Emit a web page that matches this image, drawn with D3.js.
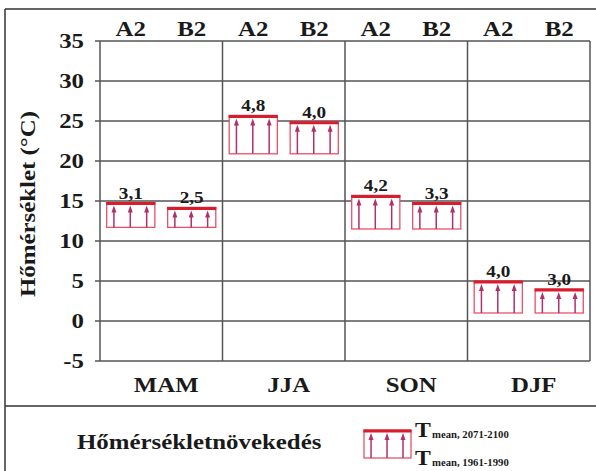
<!DOCTYPE html>
<html>
<head>
<meta charset="utf-8">
<script src="https://cdn.jsdelivr.net/npm/d3@7"></script>
<style>
body { margin: 0; background: #fff; }
</style>
</head>
<body>
<script>
var seasons = ["MAM", "JJA", "SON", "DJF"];
var scenarios = ["A2", "B2"];
// 1961-1990 seasonal mean (bottom of box)
var base1961 = [11.7, 20.9, 11.5, 1.0];
// warming by 2071-2100
var incA2 = [3.1, 4.8, 4.2, 4.0];
var incB2 = [2.5, 4.0, 3.3, 3.0];
var yTicks = [-5, 0, 5, 10, 15, 20, 25, 30, 35];

var width = 596, height = 471;
var gridColor = "#555";
var boxColor = "#e8506a";
var topColor = "#d81c2c";
var arrowColor = "#b0306a";
var stretch = 1.13;   // the original lettering is a bit wider than Times

function place(x, y) {
  return "translate(" + x + "," + y + ") scale(" + stretch + ",1)";
}

var svg = d3.select("body")
            .append("svg")
            .attr("width", width)
            .attr("height", height)
            .attr("font-family", "Liberation Serif, Times New Roman, serif")
            .attr("font-weight", "bold")
            .attr("fill", "#1a1a1a");

// outer frame
svg.append("line").attr("x1", 5).attr("x2", width).attr("y1", 9).attr("y2", 9)
   .style("stroke", "#333").style("stroke-width", 1.5);
svg.append("line").attr("x1", 5).attr("x2", 5).attr("y1", 9).attr("y2", height)
   .style("stroke", "#333").style("stroke-width", 1.5);
svg.append("line").attr("x1", 5).attr("x2", width).attr("y1", 406).attr("y2", 406)
   .style("stroke", "#333").style("stroke-width", 1.5);

var x = d3.scaleBand().domain(seasons).range([100, 590]);
var xs = d3.scaleBand().domain(scenarios).range([0, x.bandwidth()])
           .paddingInner(0.21).paddingOuter(0.11);
var y = d3.scaleLinear().domain([-5, 35]).range([361, 41]);

// grid
svg.append("g").selectAll("line")
   .data(yTicks)
   .enter()
   .append("line")
   .attr("x1", 95)
   .attr("x2", 590)
   .attr("y1", function(d) { return y(d); })
   .attr("y2", function(d) { return y(d); })
   .style("stroke", gridColor)
   .style("stroke-width", 1.5);

var bounds = seasons.map(function(s) { return x(s); }).concat([590]);
svg.append("g").selectAll("line")
   .data(bounds)
   .enter()
   .append("line")
   .attr("x1", function(d) { return d; })
   .attr("x2", function(d) { return d; })
   .attr("y1", y(35))
   .attr("y2", y(-5))
   .style("stroke", gridColor)
   .style("stroke-width", 1.5);

svg.append("g").selectAll("text")
   .data(yTicks)
   .enter()
   .append("text")
   .attr("transform", function(d) { return place(84, y(d) + 7); })
   .attr("text-anchor", "end")
   .style("font-size", "22px")
   .text(function(d) { return d; });

svg.append("text")
   .attr("transform", "translate(35,204) rotate(-90) scale(" + stretch + ",1)")
   .attr("text-anchor", "middle")
   .style("font-size", "22px")
   .text("Hőmérséklet (°C)");

// season labels
svg.append("g").selectAll("text")
   .data(seasons)
   .enter()
   .append("text")
   .attr("transform", function(d) { return place(x(d) + x.bandwidth() / 2 + 5, 392); })
   .attr("text-anchor", "middle")
   .style("font-size", "22px")
   .text(function(d) { return d; });

// bars
var bars = [];
seasons.forEach(function(s, i) {
  bars.push({season: s, scen: "A2", base: base1961[i], inc: incA2[i]});
  bars.push({season: s, scen: "B2", base: base1961[i], inc: incB2[i]});
});

// scenario header
svg.append("g").selectAll("text")
   .data(bars)
   .enter()
   .append("text")
   .attr("transform", function(d) { return place(x(d.season) + xs(d.scen) + xs.bandwidth() / 2, 36); })
   .attr("text-anchor", "middle")
   .style("font-size", "22px")
   .text(function(d) { return d.scen; });

function drawBox(g, x0, w, yTop, yBot) {
  g.append("rect")
   .attr("x", x0)
   .attr("y", yTop)
   .attr("width", w)
   .attr("height", yBot - yTop)
   .style("fill", "#fff")
   .style("stroke", boxColor)
   .style("stroke-width", 1.3);
  [0.15, 0.49, 0.83].forEach(function(f) {
    var ax = x0 + w * f;
    g.append("line")
     .attr("x1", ax)
     .attr("x2", ax)
     .attr("y1", yBot)
     .attr("y2", yTop + 8)
     .style("stroke", arrowColor)
     .style("stroke-width", 1.5);
    g.append("path")
     .attr("d", "M" + (ax - 2.5) + "," + (yTop + 10) + "L" + ax + "," + (yTop + 3) + "L" + (ax + 2.5) + "," + (yTop + 10) + "Z")
     .style("fill", arrowColor);
  });
  g.append("line")
   .attr("x1", x0 - 0.5)
   .attr("x2", x0 + w + 0.5)
   .attr("y1", yTop + 1)
   .attr("y2", yTop + 1)
   .style("stroke", topColor)
   .style("stroke-width", 3);
}

var barGroup = svg.append("g").attr("id", "bars");
bars.forEach(function(d) {
  var bx = x(d.season) + xs(d.scen);
  var yTop = y(d.base + d.inc);
  drawBox(barGroup, bx, xs.bandwidth(), yTop, y(d.base));
  barGroup.append("text")
          .attr("transform", place(bx + xs.bandwidth() / 2, yTop - 4))
          .attr("text-anchor", "middle")
          .style("font-size", "17px")
          .text(d.inc.toFixed(1).replace(".", ","));
});

// legend
svg.append("text")
   .attr("transform", place(77, 449))
   .style("font-size", "22px")
   .text("Hőmérsékletnövekedés");

drawBox(svg.append("g"), 364, 47, 430, 458);

var leg = [{label: "mean, 2071-2100", y: 437}, {label: "mean, 1961-1990", y: 465}];
leg.forEach(function(d) {
  var t = svg.append("text")
             .attr("transform", place(415, d.y));
  t.append("tspan").style("font-size", "21px").text("T");
  t.append("tspan").style("font-size", "9.5px").attr("dx", 1).attr("dy", 1).text(d.label);
});
</script>
</body>
</html>
